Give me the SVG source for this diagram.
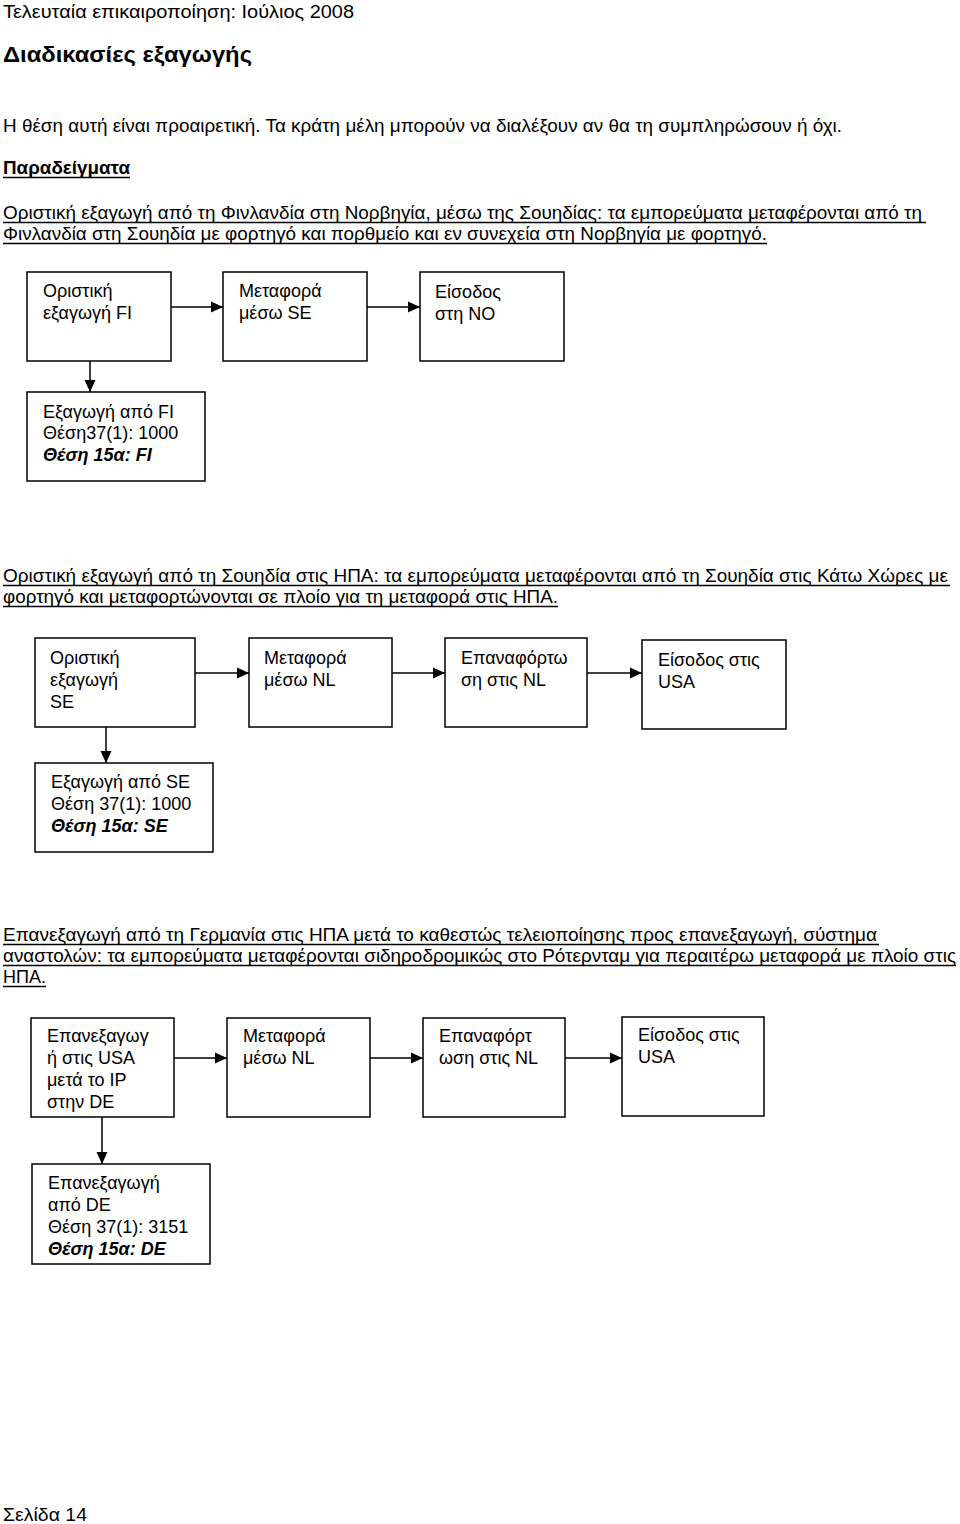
<svg xmlns="http://www.w3.org/2000/svg" width="960" height="1524" viewBox="0 0 960 1524">
<style>
text{font-family:"Liberation Sans",Arial,"Noto Sans",sans-serif;fill:#000}
.b{font-size:17.5px}
.bx{font-size:18px}
.bi{font-weight:bold;font-style:italic}
.ul line{stroke:#000;stroke-width:1.7}
rect{fill:#fff;stroke:#000;stroke-width:1.5}
.c line{stroke:#000;stroke-width:1.5}
</style>
<defs>
<marker id="ah" markerUnits="userSpaceOnUse" markerWidth="12" markerHeight="12" viewBox="0 0 12 12" refX="12" refY="6" orient="auto">
<path d="M0,0.5 L12,6 L0,11.5 z" fill="#000"/>
</marker>
</defs>
<rect x="0" y="0" width="960" height="1524" style="stroke:none;fill:#fff"/>
<g id="text-blocks">
<text class="b" x="3" y="18" textLength="351" lengthAdjust="spacingAndGlyphs">Τελευταία επικαιροποίηση: Ιούλιος 2008</text>
<text x="3" y="62" font-size="22" font-weight="bold" textLength="249" lengthAdjust="spacingAndGlyphs">Διαδικασίες εξαγωγής</text>
<text class="b" x="3" y="132" textLength="839" lengthAdjust="spacingAndGlyphs">Η θέση αυτή είναι προαιρετική. Τα κράτη μέλη μπορούν να διαλέξουν αν θα τη συμπληρώσουν ή όχι.</text>
<text class="b" x="3" y="174" font-weight="bold" textLength="127" lengthAdjust="spacingAndGlyphs">Παραδείγματα</text>
<text class="b" x="3" y="219" textLength="919" lengthAdjust="spacingAndGlyphs">Οριστική εξαγωγή από τη Φινλανδία στη Νορβηγία, μέσω της Σουηδίας: τα εμπορεύματα μεταφέρονται από τη</text>
<text class="b" x="3" y="240" textLength="764" lengthAdjust="spacingAndGlyphs">Φινλανδία στη Σουηδία με φορτηγό και πορθμείο και εν συνεχεία στη Νορβηγία με φορτηγό.</text>
<text class="b" x="3" y="582" textLength="945" lengthAdjust="spacingAndGlyphs">Οριστική εξαγωγή από τη Σουηδία στις ΗΠΑ: τα εμπορεύματα μεταφέρονται από τη Σουηδία στις Κάτω Χώρες με</text>
<text class="b" x="3" y="603" textLength="555" lengthAdjust="spacingAndGlyphs">φορτηγό και μεταφορτώνονται σε πλοίο για τη μεταφορά στις ΗΠΑ.</text>
<text class="b" x="3" y="941" textLength="874" lengthAdjust="spacingAndGlyphs">Επανεξαγωγή από τη Γερμανία στις ΗΠΑ μετά το καθεστώς τελειοποίησης προς επανεξαγωγή, σύστημα</text>
<text class="b" x="3" y="962" textLength="953" lengthAdjust="spacingAndGlyphs">αναστολών: τα εμπορεύματα μεταφέρονται σιδηροδρομικώς στο Ρότερνταμ για περαιτέρω μεταφορά με πλοίο στις</text>
<text class="b" x="3" y="983" textLength="43" lengthAdjust="spacingAndGlyphs">ΗΠΑ.</text>
<text class="b" x="3" y="1521" textLength="84" lengthAdjust="spacingAndGlyphs">Σελίδα 14</text>
</g>
<g class="ul" id="underlines">
<line x1="3" y1="177.5" x2="130" y2="177.5"/>
<line x1="3" y1="222.5" x2="926" y2="222.5"/>
<line x1="3" y1="243.5" x2="767" y2="243.5"/>
<line x1="3" y1="585.5" x2="950" y2="585.5"/>
<line x1="3" y1="606.5" x2="558" y2="606.5"/>
<line x1="3" y1="944.5" x2="879" y2="944.5"/>
<line x1="3" y1="965.5" x2="956" y2="965.5"/>
<line x1="3" y1="986.5" x2="46" y2="986.5"/>
</g>
<g class="c" id="connectors">
<line x1="171" y1="307" x2="223" y2="307" marker-end="url(#ah)"/>
<line x1="367" y1="307" x2="420" y2="307" marker-end="url(#ah)"/>
<line x1="90" y1="361" x2="90" y2="392" marker-end="url(#ah)"/>
<line x1="195" y1="673" x2="249" y2="673" marker-end="url(#ah)"/>
<line x1="392" y1="673" x2="445" y2="673" marker-end="url(#ah)"/>
<line x1="587" y1="673" x2="642" y2="673" marker-end="url(#ah)"/>
<line x1="106" y1="727" x2="106" y2="763" marker-end="url(#ah)"/>
<line x1="174" y1="1058" x2="227" y2="1058" marker-end="url(#ah)"/>
<line x1="370" y1="1058" x2="423" y2="1058" marker-end="url(#ah)"/>
<line x1="565" y1="1058" x2="622" y2="1058" marker-end="url(#ah)"/>
<line x1="102" y1="1117" x2="102" y2="1164" marker-end="url(#ah)"/>
</g>
<g id="a1"><rect x="27" y="272" width="144" height="89"/><text class="bx" x="43" y="297">Οριστική</text><text class="bx" x="43" y="319">εξαγωγή FI</text></g>
<g id="a2"><rect x="223" y="272" width="144" height="89"/><text class="bx" x="239" y="297">Μεταφορά</text><text class="bx" x="239" y="319">μέσω SE</text></g>
<g id="a3"><rect x="420" y="272" width="144" height="89"/><text class="bx" x="435" y="298">Είσοδος</text><text class="bx" x="435" y="320">στη NO</text></g>
<g id="a4"><rect x="27" y="392" width="178" height="89"/><text class="bx" x="43" y="418">Εξαγωγή από FI</text><text class="bx" x="43" y="439">Θέση37(1): 1000</text><text class="bx bi" x="43" y="461">Θέση 15α: FI</text></g>
<g id="b1"><rect x="35" y="638" width="160" height="89"/><text class="bx" x="50" y="664">Οριστική</text><text class="bx" x="50" y="686">εξαγωγή</text><text class="bx" x="50" y="708">SE</text></g>
<g id="b2"><rect x="249" y="638" width="143" height="89"/><text class="bx" x="264" y="664">Μεταφορά</text><text class="bx" x="264" y="686">μέσω NL</text></g>
<g id="b3"><rect x="445" y="638" width="142" height="89"/><text class="bx" x="461" y="664">Επαναφόρτω</text><text class="bx" x="461" y="686">ση στις NL</text></g>
<g id="b4"><rect x="642" y="640" width="144" height="89"/><text class="bx" x="658" y="666">Είσοδος στις</text><text class="bx" x="658" y="688">USA</text></g>
<g id="b5"><rect x="35" y="763" width="178" height="89"/><text class="bx" x="51" y="788">Εξαγωγή από SE</text><text class="bx" x="51" y="810">Θέση 37(1): 1000</text><text class="bx bi" x="51" y="832">Θέση 15α: SE</text></g>
<g id="c1"><rect x="31" y="1018" width="143" height="99"/><text class="bx" x="47" y="1042">Επανεξαγωγ</text><text class="bx" x="47" y="1064">ή στις USA</text><text class="bx" x="47" y="1086">μετά το IP</text><text class="bx" x="47" y="1108">στην DE</text></g>
<g id="c2"><rect x="227" y="1018" width="143" height="99"/><text class="bx" x="243" y="1042">Μεταφορά</text><text class="bx" x="243" y="1064">μέσω NL</text></g>
<g id="c3"><rect x="423" y="1018" width="142" height="99"/><text class="bx" x="439" y="1042">Επαναφόρτ</text><text class="bx" x="439" y="1064">ωση στις NL</text></g>
<g id="c4"><rect x="622" y="1017" width="142" height="99"/><text class="bx" x="638" y="1041">Είσοδος στις</text><text class="bx" x="638" y="1063">USA</text></g>
<g id="c5"><rect x="32" y="1164" width="178" height="100"/><text class="bx" x="48" y="1189">Επανεξαγωγή</text><text class="bx" x="48" y="1211">από DE</text><text class="bx" x="48" y="1233">Θέση 37(1): 3151</text><text class="bx bi" x="48" y="1255">Θέση 15α: DE</text></g>
</svg>
